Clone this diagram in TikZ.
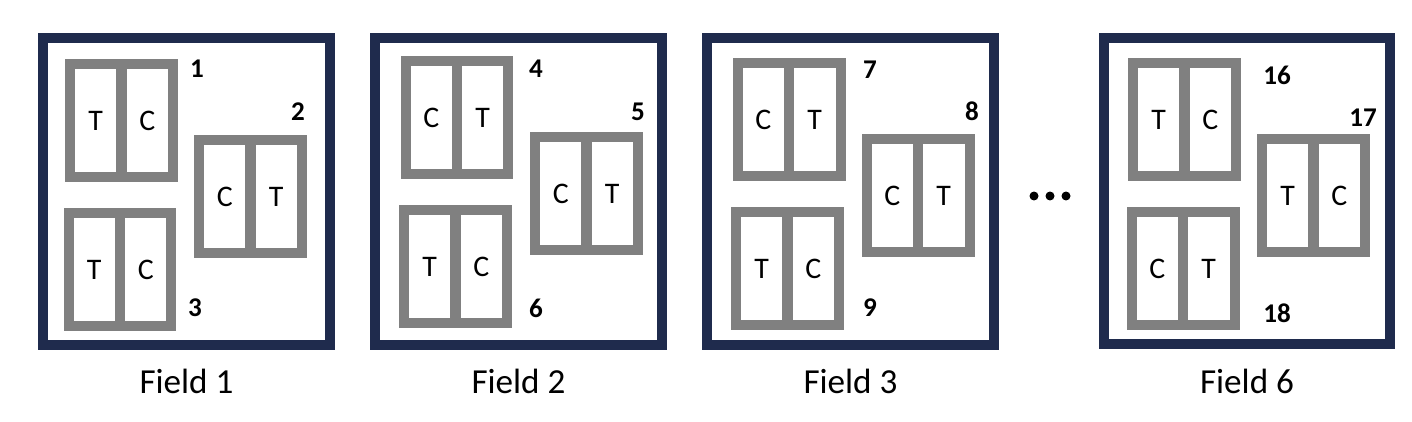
\documentclass[tikz,border=0pt]{standalone}
\usepackage{fontspec}
\setmainfont{Carlito}
\definecolor{framenavy}{RGB}{31,43,77}
\definecolor{plotgray}{RGB}{128,128,128}

% one plot: name, x, y, left letter, right letter
\newcommand{\plotpair}[5]{%
  \node[plotbox] (#1) at (#2,#3) {};
  \draw[divider] (#1.north) -- (#1.south);
  \node[letter] (#1l) at (#2-25.75,#3) {#4};
  \node[letter] (#1r) at (#2+25.75,#3) {#5};
}

\begin{document}
\begin{tikzpicture}[
    x=0.02cm, y=-0.02cm,
    field/.style={rectangle, draw=framenavy, line width=0.2cm, minimum width=5.74cm, minimum height=6.14cm, inner sep=0pt},
    plotbox/.style={rectangle, draw=plotgray, line width=0.2cm, minimum width=2.06cm, minimum height=2.26cm, inner sep=0pt},
    divider/.style={draw=plotgray, line width=0.21cm},
    letter/.style={font=\fontsize{17}{20}\selectfont, inner sep=0pt},
    num/.style={font=\fontsize{15.4}{18}\selectfont\bfseries, inner sep=0pt},
    fieldlabel/.style={font=\fontsize{20}{24}\selectfont, anchor=base, inner sep=0pt},
    dot/.style={circle, fill=black, minimum size=0.18cm, inner sep=0pt}
]
\useasboundingbox (0,0) rectangle (1412,422);

% fields
\node[field] (f1) at (186.5,191.5) {};
\node[field] (f2) at (518.5,191.5) {};
\node[field] (f3) at (850.5,191.5) {};
\node[field] (f6) at (1247,191) {};

% field 1
\plotpair{p1}{121.5}{120.5}{T}{C}
\plotpair{p2}{250.5}{196.5}{C}{T}
\plotpair{p3}{120}{269.5}{T}{C}
\node[num] (n1) at (197,69) {1};
\node[num] (n2) at (298,112) {2};
\node[num] (n3) at (195,308) {3};

% field 2
\plotpair{p4}{457}{117.5}{C}{T}
\plotpair{p5}{586.5}{193.5}{C}{T}
\plotpair{p6}{455.5}{266.5}{T}{C}
\node[num] (n4) at (536,69) {4};
\node[num] (n5) at (638,112) {5};
\node[num] (n6) at (536,308) {6};

% field 3
\plotpair{p7}{789}{119.5}{C}{T}
\plotpair{p8}{918}{195.5}{C}{T}
\plotpair{p9}{787.5}{268.5}{T}{C}
\node[num] (n7) at (870,70) {7};
\node[num] (n8) at (972,111) {8};
\node[num] (n9) at (870,308) {9};

% field 6
\plotpair{p16}{1184.5}{119.5}{T}{C}
\plotpair{p17}{1313.5}{195.5}{T}{C}
\plotpair{p18}{1183}{268.5}{C}{T}
\node[num] (n16) at (1277,75) {16};
\node[num] (n17) at (1363,118) {17};
\node[num] (n18) at (1277,313) {18};

% dots
\node[dot] (d1) at (1034,196) {};
\node[dot] (d2) at (1050,196) {};
\node[dot] (d3) at (1066,196) {};

% labels
\node[fieldlabel] (l1) at (186.5,393) {Field 1};
\node[fieldlabel] (l2) at (518.5,393) {Field 2};
\node[fieldlabel] (l3) at (850.5,393) {Field 3};
\node[fieldlabel] (l6) at (1247,393) {Field 6};
\end{tikzpicture}
\end{document}
